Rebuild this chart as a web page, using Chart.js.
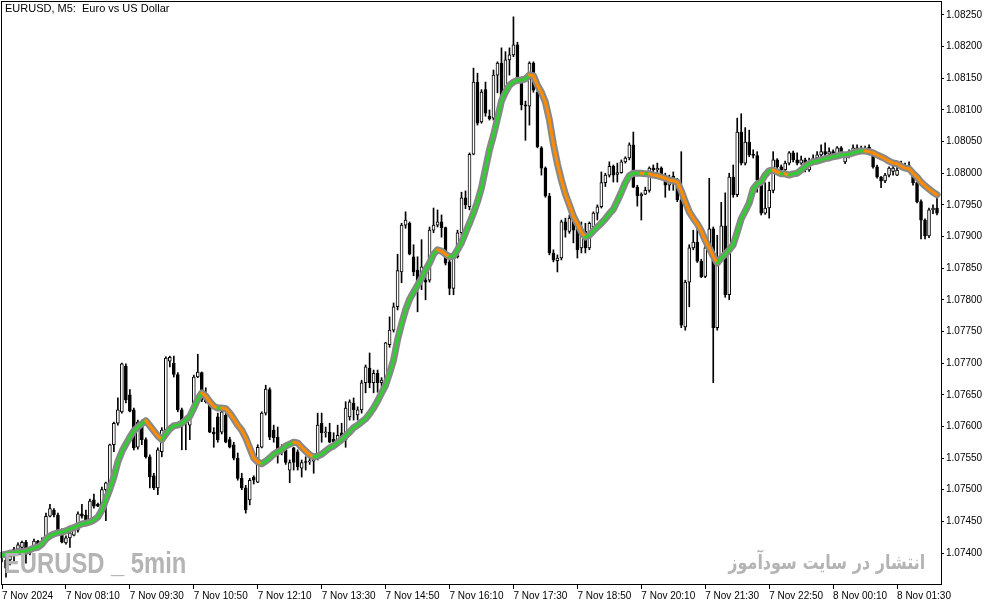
<!DOCTYPE html>
<html>
<head>
<meta charset="utf-8">
<script src="https://cdn.jsdelivr.net/npm/chart.js@4.4.1/dist/chart.umd.min.js"></script>
<style>
  html, body { margin: 0; padding: 0; background: #fff; }
  #wrap { position: relative; width: 994px; height: 605px; overflow: hidden; }
  #chart { position: absolute; left: 0; top: 0; }
  #title { position: absolute; left: 5px; top: 2px; font: 11px "Liberation Sans", Arial, sans-serif; color: #000; white-space: pre; }
  #mark1 { position: absolute; left: 4px; top: 549px; font: bold 29px/29px "Liberation Sans Narrow", "Liberation Sans", sans-serif; color: #b4b4b4; white-space: pre; transform: scaleX(0.82); transform-origin: left top; }
  #mark2 { position: absolute; right: 69px; top: 549px; font: bold 20px/26px "DejaVu Sans", sans-serif; color: #b4b4b4; direction: rtl; white-space: nowrap; transform: scaleX(0.8); transform-origin: right top; }
</style>
</head>
<body>
<div id="wrap">
  <canvas id="chart" width="994" height="605"></canvas>
  <div id="title">EURUSD, M5:  Euro vs US Dollar</div>
  <div id="mark1">EURUSD _ 5min</div>
  <div id="mark2">انتشار در سایت سودآموز</div>
</div>
<script>
// EURUSD M5 candles, 7 Nov 06:50 onwards
const opens = [1.07395,1.07389,1.07389,1.07406,1.07406,1.07409,1.07417,1.07400,1.07409,1.07419,
1.07414,1.07425,1.07458,1.07468,1.07460,1.07435,1.07416,1.07424,1.07428,1.07436,
1.07462,1.07460,1.07452,1.07484,1.07477,1.07476,1.07500,1.07511,1.07571,1.07605,
1.07623,1.07695,1.07650,1.07626,1.07567,1.07607,1.07579,1.07552,1.07522,1.07503,
1.07560,1.07594,1.07703,1.07700,1.07682,1.07626,1.07610,1.07602,1.07626,1.07678,
1.07685,1.07642,1.07639,1.07591,1.07615,1.07591,1.07618,1.07579,1.07571,1.07550,
1.07518,1.07503,1.07484,1.07520,1.07512,1.07567,1.07621,1.07658,1.07594,1.07583,
1.07560,1.07563,1.07531,1.07566,1.07560,1.07534,1.07544,1.07544,1.07545,1.07550,
1.07605,1.07590,1.07591,1.07580,1.07579,1.07590,1.07579,1.07615,1.07637,1.07618,
1.07626,1.07669,1.07692,1.07669,1.07684,1.07669,1.07673,1.07729,1.07752,1.07789,
1.07844,1.07918,1.07921,1.07868,1.07847,1.07831,1.07831,1.07831,1.07910,1.07918,
1.07923,1.07914,1.07860,1.07818,1.07868,1.07906,1.07961,1.07947,1.08030,1.08144,
1.08081,1.08132,1.08090,1.08087,1.08155,1.08174,1.08132,1.08179,1.08187,1.08203,
1.08151,1.08108,1.08106,1.08174,1.08128,1.08040,1.08008,1.07964,1.07874,1.07862,
1.07866,1.07923,1.07908,1.07926,1.07913,1.07882,1.07908,1.07882,1.07915,1.07937,
1.07947,1.07985,1.07997,1.08011,1.07998,1.08001,1.08018,1.08024,1.08045,1.07978,
1.07964,1.07967,1.07973,1.08008,1.08005,1.08008,1.07997,1.07981,1.07995,1.07986,
1.07958,1.07757,1.07828,1.07882,1.07891,1.07861,1.07837,1.07882,1.07912,1.07756,
1.07868,1.07917,1.07808,1.07994,1.07966,1.08065,1.08016,1.08049,1.08030,1.08028,
1.07989,1.07937,1.07945,1.07973,1.08021,1.08010,1.08005,1.08016,1.08032,1.08021,
1.08016,1.08021,1.08005,1.08018,1.08024,1.08029,1.08034,1.08030,1.08034,1.08029,
1.08040,1.08018,1.08026,1.08032,1.08040,1.08037,1.08038,1.08041,1.08030,1.08010,
1.07994,1.07988,1.07997,1.08003,1.07997,1.08016,1.08010,1.08012,1.07997,1.07985,
1.07955,1.07926,1.07901,1.07942,1.07945];

const highs = [1.07401,1.07397,1.07400,1.07409,1.07416,1.07419,1.07420,1.07409,1.07422,1.07420,
1.07424,1.07463,1.07477,1.07470,1.07463,1.07438,1.07427,1.07436,1.07440,1.07465,
1.07477,1.07468,1.07485,1.07493,1.07479,1.07504,1.07512,1.07572,1.07607,1.07645,
1.07700,1.07699,1.07658,1.07629,1.07610,1.07610,1.07582,1.07555,1.07526,1.07566,
1.07598,1.07710,1.07711,1.07711,1.07685,1.07629,1.07613,1.07623,1.07681,1.07714,
1.07686,1.07661,1.07645,1.07598,1.07621,1.07626,1.07621,1.07583,1.07575,1.07558,
1.07526,1.07507,1.07518,1.07522,1.07571,1.07623,1.07665,1.07661,1.07602,1.07599,
1.07571,1.07567,1.07547,1.07567,1.07563,1.07547,1.07552,1.07552,1.07553,1.07621,
1.07621,1.07599,1.07605,1.07590,1.07602,1.07605,1.07639,1.07642,1.07645,1.07631,
1.07673,1.07697,1.07716,1.07689,1.07689,1.07677,1.07733,1.07773,1.07795,1.07872,
1.07921,1.07939,1.07923,1.07887,1.07868,1.07895,1.07842,1.07915,1.07945,1.07942,
1.07934,1.07915,1.07863,1.07871,1.07910,1.07970,1.07972,1.08032,1.08166,1.08158,
1.08132,1.08144,1.08100,1.08163,1.08176,1.08198,1.08192,1.08198,1.08247,1.08207,
1.08152,1.08114,1.08176,1.08176,1.08131,1.08042,1.08010,1.07968,1.07879,1.07871,
1.07926,1.07929,1.07934,1.07931,1.07921,1.07923,1.07921,1.07923,1.07939,1.07950,
1.08002,1.08000,1.08018,1.08013,1.08016,1.08021,1.08026,1.08048,1.08065,1.07981,
1.07969,1.07978,1.08010,1.08013,1.08016,1.08010,1.08000,1.07997,1.08002,1.07992,
1.08034,1.07831,1.07887,1.07910,1.07915,1.07864,1.07887,1.07992,1.07915,1.07902,
1.07954,1.07969,1.08000,1.08013,1.08087,1.08094,1.08072,1.08068,1.08037,1.08034,
1.07992,1.07985,1.07986,1.08034,1.08023,1.08013,1.08019,1.08034,1.08035,1.08032,
1.08027,1.08024,1.08024,1.08029,1.08034,1.08045,1.08048,1.08040,1.08037,1.08042,
1.08042,1.08029,1.08037,1.08045,1.08045,1.08043,1.08043,1.08045,1.08033,1.08013,
1.07995,1.08000,1.08010,1.08011,1.08010,1.08019,1.08016,1.08018,1.08000,1.07986,
1.07958,1.07928,1.07945,1.07950,1.07961];

const lows = [1.07386,1.07362,1.07381,1.07384,1.07400,1.07405,1.07384,1.07397,1.07405,1.07409,
1.07409,1.07424,1.07457,1.07457,1.07433,1.07416,1.07414,1.07409,1.07427,1.07433,
1.07455,1.07449,1.07449,1.07471,1.07473,1.07468,1.07451,1.07509,1.07560,1.07602,
1.07621,1.07637,1.07623,1.07563,1.07564,1.07571,1.07550,1.07503,1.07500,1.07492,
1.07552,1.07591,1.07694,1.07678,1.07623,1.07563,1.07563,1.07579,1.07623,1.07677,
1.07639,1.07637,1.07590,1.07567,1.07575,1.07588,1.07574,1.07566,1.07547,1.07515,
1.07500,1.07463,1.07476,1.07509,1.07511,1.07566,1.07618,1.07579,1.07575,1.07542,
1.07555,1.07540,1.07511,1.07531,1.07531,1.07520,1.07531,1.07540,1.07526,1.07547,
1.07575,1.07583,1.07574,1.07574,1.07571,1.07574,1.07567,1.07610,1.07610,1.07610,
1.07621,1.07653,1.07661,1.07653,1.07654,1.07662,1.07670,1.07725,1.07749,1.07784,
1.07827,1.07913,1.07871,1.07838,1.07781,1.07816,1.07800,1.07828,1.07906,1.07915,
1.07899,1.07855,1.07808,1.07808,1.07866,1.07902,1.07944,1.07942,1.08029,1.08076,
1.08079,1.08090,1.08084,1.08084,1.08127,1.08119,1.08128,1.08155,1.08184,1.08143,
1.08100,1.08052,1.08076,1.08128,1.08040,1.07997,1.07962,1.07871,1.07860,1.07844,
1.07863,1.07899,1.07905,1.07890,1.07866,1.07874,1.07874,1.07879,1.07904,1.07926,
1.07945,1.07979,1.07994,1.07986,1.07986,1.08000,1.08016,1.08021,1.07977,1.07948,
1.07926,1.07966,1.07970,1.08000,1.08000,1.07992,1.07962,1.07973,1.07973,1.07955,
1.07756,1.07752,1.07789,1.07879,1.07859,1.07835,1.07835,1.07880,1.07669,1.07752,
1.07865,1.07804,1.07800,1.07962,1.07963,1.08013,1.08013,1.08026,1.08024,1.07970,
1.07934,1.07935,1.07929,1.07969,1.08005,1.08002,1.08000,1.08013,1.08018,1.08013,
1.08014,1.08002,1.08003,1.08015,1.08018,1.08021,1.08026,1.08026,1.08024,1.08027,
1.08027,1.08015,1.08024,1.08029,1.08034,1.08034,1.08034,1.08029,1.08008,1.07992,
1.07977,1.07985,1.07994,1.07997,1.07996,1.08008,1.08005,1.08005,1.07981,1.07953,
1.07896,1.07896,1.07898,1.07936,1.07934];

const closes = [1.07400,1.07376,1.07395,1.07400,1.07413,1.07417,1.07398,1.07408,1.07419,1.07413,
1.07419,1.07458,1.07470,1.07460,1.07436,1.07417,1.07424,1.07432,1.07436,1.07462,
1.07458,1.07452,1.07482,1.07474,1.07474,1.07500,1.07511,1.07571,1.07605,1.07626,
1.07699,1.07642,1.07624,1.07566,1.07607,1.07579,1.07552,1.07520,1.07503,1.07563,
1.07594,1.07708,1.07709,1.07682,1.07626,1.07607,1.07605,1.07618,1.07678,1.07686,
1.07642,1.07639,1.07591,1.07588,1.07579,1.07623,1.07575,1.07567,1.07550,1.07518,
1.07503,1.07468,1.07515,1.07515,1.07567,1.07621,1.07659,1.07583,1.07582,1.07563,
1.07567,1.07543,1.07543,1.07543,1.07536,1.07543,1.07543,1.07545,1.07550,1.07602,
1.07590,1.07591,1.07575,1.07575,1.07586,1.07583,1.07629,1.07639,1.07626,1.07626,
1.07669,1.07694,1.07669,1.07684,1.07669,1.07673,1.07732,1.07752,1.07789,1.07846,
1.07918,1.07926,1.07872,1.07844,1.07828,1.07852,1.07828,1.07910,1.07918,1.07923,
1.07914,1.07858,1.07818,1.07868,1.07906,1.07961,1.07950,1.08030,1.08144,1.08079,
1.08128,1.08095,1.08086,1.08155,1.08174,1.08120,1.08179,1.08187,1.08203,1.08151,
1.08108,1.08106,1.08174,1.08131,1.08042,1.08008,1.07964,1.07874,1.07863,1.07866,
1.07923,1.07910,1.07929,1.07910,1.07879,1.07908,1.07882,1.07921,1.07937,1.07947,
1.07985,1.07997,1.08011,1.07997,1.08001,1.08018,1.08024,1.08045,1.07978,1.07964,
1.07967,1.07973,1.08008,1.08005,1.08008,1.07997,1.07981,1.07989,1.07986,1.07958,
1.07760,1.07828,1.07882,1.07891,1.07861,1.07836,1.07882,1.07912,1.07756,1.07868,
1.07917,1.07808,1.07994,1.07966,1.08065,1.08016,1.08049,1.08029,1.08028,1.07989,
1.07937,1.07945,1.07973,1.08021,1.08010,1.08005,1.08016,1.08032,1.08021,1.08016,
1.08021,1.08005,1.08018,1.08024,1.08029,1.08034,1.08030,1.08034,1.08029,1.08040,
1.08030,1.08026,1.08032,1.08040,1.08037,1.08038,1.08037,1.08037,1.08010,1.07994,
1.07988,1.07997,1.08008,1.08008,1.08005,1.08010,1.08008,1.08008,1.07985,1.07955,
1.07926,1.07901,1.07942,1.07945,1.07937];

// moving average line
const ma = [1.07397,1.07398,1.07400,1.07400,1.07402,1.07402,1.07403,1.07405,1.07408,1.07409,
1.07414,1.07422,1.07427,1.07430,1.07432,1.07433,1.07435,1.07438,1.07440,1.07443,
1.07446,1.07447,1.07449,1.07452,1.07457,1.07468,1.07484,1.07501,1.07520,1.07544,
1.07560,1.07572,1.07583,1.07593,1.07599,1.07604,1.07609,1.07601,1.07593,1.07585,
1.07579,1.07588,1.07596,1.07601,1.07602,1.07605,1.07610,1.07616,1.07629,1.07643,
1.07653,1.07648,1.07639,1.07632,1.07629,1.07629,1.07628,1.07621,1.07612,1.07602,
1.07594,1.07582,1.07566,1.07550,1.07544,1.07541,1.07545,1.07550,1.07556,1.07560,
1.07563,1.07569,1.07572,1.07575,1.07574,1.07567,1.07561,1.07555,1.07552,1.07553,
1.07556,1.07561,1.07566,1.07569,1.07574,1.07579,1.07585,1.07591,1.07598,1.07602,
1.07607,1.07612,1.07620,1.07629,1.07640,1.07653,1.07665,1.07684,1.07705,1.07737,
1.07762,1.07784,1.07801,1.07812,1.07823,1.07834,1.07847,1.07858,1.07872,1.07879,
1.07877,1.07872,1.07868,1.07869,1.07879,1.07890,1.07906,1.07921,1.07937,1.07955,
1.07977,1.08007,1.08037,1.08060,1.08086,1.08114,1.08128,1.08139,1.08144,1.08147,
1.08147,1.08149,1.08155,1.08154,1.08139,1.08128,1.08112,1.08084,1.08046,1.08015,
1.07989,1.07967,1.07950,1.07932,1.07920,1.07907,1.07899,1.07902,1.07909,1.07915,
1.07921,1.07928,1.07936,1.07943,1.07956,1.07970,1.07985,1.07996,1.08000,1.08000,
1.08000,1.07999,1.07999,1.07997,1.07996,1.07994,1.07992,1.07989,1.07988,1.07986,
1.07972,1.07955,1.07939,1.07929,1.07920,1.07909,1.07894,1.07882,1.07869,1.07858,
1.07866,1.07872,1.07879,1.07887,1.07907,1.07928,1.07940,1.07953,1.07975,1.07983,
1.07986,1.07997,1.08004,1.08005,1.08002,1.07999,1.07999,1.07997,1.07999,1.08000,
1.08005,1.08011,1.08015,1.08018,1.08019,1.08021,1.08023,1.08024,1.08026,1.08027,
1.08029,1.08029,1.08030,1.08032,1.08034,1.08035,1.08035,1.08034,1.08032,1.08029,
1.08026,1.08023,1.08019,1.08016,1.08015,1.08011,1.08008,1.08007,1.08000,1.07994,
1.07986,1.07980,1.07975,1.07970,1.07966];

const priceTicks = [1.07400,1.07450,1.07500,1.07550,1.07600,1.07650,1.07700,1.07750,1.07800,
  1.07850,1.07900,1.07950,1.08000,1.08050,1.08100,1.08150,1.08200,1.08250];

const tickLabels = ['7 Nov 2024','7 Nov 08:10','7 Nov 09:30','7 Nov 10:50','7 Nov 12:10','7 Nov 13:30',
  '7 Nov 14:50','7 Nov 16:10','7 Nov 17:30','7 Nov 18:50','7 Nov 20:10','7 Nov 21:30','7 Nov 22:50',
  '8 Nov 00:10','8 Nov 01:30'];

// 5 minute slots starting 7 Nov 06:50 (one spare slot on the right)
const categories = [];
for (let i = 0; i < 236; i++) {
  const m = 6 * 60 + 50 + 5 * i;
  const day = 7 + Math.floor(m / 1440);
  const hh = String(Math.floor((m % 1440) / 60)).padStart(2, '0');
  const mm = String(m % 60).padStart(2, '0');
  categories.push(day + ' Nov ' + hh + ':' + mm);
}

const GREEN = '#32cd32';
const ORANGE = '#ff8c00';
const axisFont = { family: 'Liberation Sans', size: 10 };

// frame around the plot
const frame = {
  id: 'frame',
  afterDraw(chart) {
    const a = chart.chartArea;
    const c = chart.ctx;
    c.save();
    c.strokeStyle = '#000';
    c.lineWidth = 1;
    c.strokeRect(Math.round(a.left) - 0.5, Math.round(a.top) - 0.5,
      Math.round(a.right - a.left) + 1, Math.round(a.bottom - a.top) + 1);
    c.restore();
  }
};

new Chart(document.getElementById('chart'), {
  type: 'bar',
  data: {
    labels: categories,
    datasets: [
      {
        type: 'line',
        data: ma,
        borderWidth: 3,
        pointRadius: 0,
        tension: 0,
        borderJoinStyle: 'round',
        borderCapStyle: 'round',
        borderColor: GREEN,
        segment: {
          borderColor: c => c.p1.parsed.y < c.p0.parsed.y ? ORANGE : GREEN
        },
        order: 0
      },
      {
        type: 'line',
        data: ma,
        borderWidth: 7,
        pointRadius: 0,
        tension: 0,
        borderJoinStyle: 'round',
        borderCapStyle: 'round',
        borderColor: '#888888',
        order: 1
      },
      {
        data: opens.map((o, i) => [o, closes[i]]),
        backgroundColor: closes.map((c, i) => c >= opens[i] ? '#ffffff' : '#000000'),
        borderColor: '#000',
        borderWidth: 1,
        borderSkipped: false,
        barThickness: 3,
        minBarLength: 1,
        grouped: false,
        order: 2
      },
      {
        data: lows.map((l, i) => [l, highs[i]]),
        backgroundColor: '#000',
        barThickness: 1,
        grouped: false,
        order: 3
      }
    ]
  },
  options: {
    responsive: false,
    animation: false,
    events: [],
    layout: { padding: { top: 2, left: 2, right: 0, bottom: 0 } },
    plugins: {
      legend: { display: false },
      tooltip: { enabled: false }
    },
    scales: {
      x: {
        offset: false,
        grid: {
          offset: false,
          drawOnChartArea: false,
          tickLength: 5,
          color: c => c.index % 16 === 0 ? '#000' : 'rgba(0,0,0,0)'
        },
        border: { color: '#000' },
        ticks: {
          autoSkip: false,
          maxRotation: 0,
          minRotation: 0,
          align: 'start',
          padding: 1,
          color: '#000',
          font: axisFont,
          callback: (v, i) => i % 16 === 0 ? tickLabels[i / 16] : ''
        },
        afterFit: s => { s.height = 21; s.paddingLeft = 0; s.paddingRight = 0; }
      },
      y: {
        position: 'right',
        min: 1.0735103,
        max: 1.0827047,
        afterBuildTicks: s => { s.ticks = priceTicks.map(v => ({ value: v })); },
        grid: { drawOnChartArea: false, tickLength: 3, color: '#000' },
        border: { color: '#000' },
        ticks: {
          padding: 2,
          color: '#000',
          font: axisFont,
          callback: v => Number(v).toFixed(5)
        },
        afterFit: s => { s.width = 53; s.paddingTop = 0; s.paddingBottom = 0; }
      }
    }
  },
  plugins: [frame]
});
</script>
</body>
</html>
